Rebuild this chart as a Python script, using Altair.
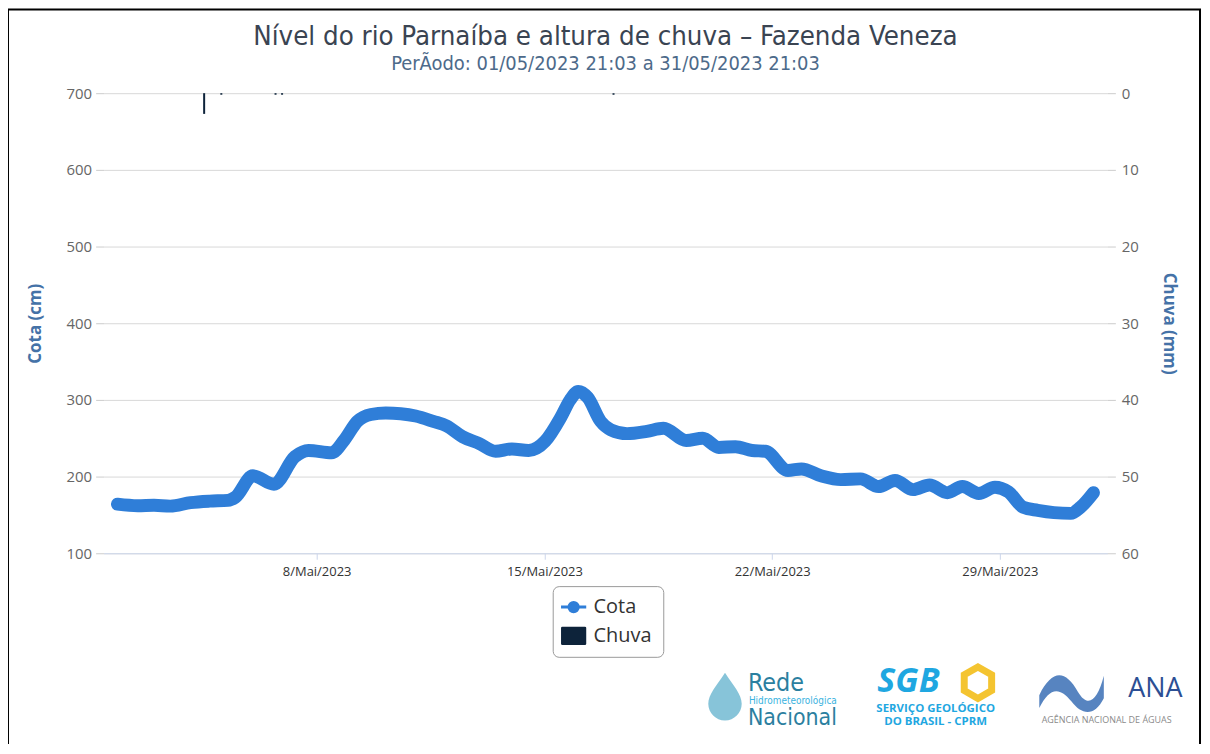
import altair as alt
import pandas as pd

# ---------------- data ----------------
cota_time = [
    "2023-05-01T21:03", "2023-05-02T12:00", "2023-05-03T00:00", "2023-05-03T12:00",
    "2023-05-04T03:00", "2023-05-04T17:00", "2023-05-05T06:30", "2023-05-05T12:00",
    "2023-05-06T01:00", "2023-05-06T16:30", "2023-05-07T08:00", "2023-05-07T18:00",
    "2023-05-08T11:00", "2023-05-08T20:30", "2023-05-09T06:00", "2023-05-09T16:00",
    "2023-05-10T03:00", "2023-05-10T14:00", "2023-05-11T01:00", "2023-05-11T14:00",
    "2023-05-12T00:00", "2023-05-12T11:40", "2023-05-13T00:00", "2023-05-13T12:00",
    "2023-05-14T00:00", "2023-05-14T12:20", "2023-05-15T00:30", "2023-05-15T12:20",
    "2023-05-15T19:00", "2023-05-16T01:00", "2023-05-16T08:00", "2023-05-16T17:30",
    "2023-05-17T01:00", "2023-05-17T13:00", "2023-05-18T03:40", "2023-05-18T15:50",
    "2023-05-19T08:40", "2023-05-19T20:50", "2023-05-20T08:40", "2023-05-20T21:00",
    "2023-05-21T09:15", "2023-05-21T19:00", "2023-05-22T11:40", "2023-05-22T21:40",
    "2023-05-23T12:00", "2023-05-24T02:40", "2023-05-24T17:15", "2023-05-25T06:30",
    "2023-05-25T18:40", "2023-05-26T08:00", "2023-05-26T20:10", "2023-05-27T09:20",
    "2023-05-27T20:20", "2023-05-28T08:30", "2023-05-28T20:20", "2023-05-29T06:20",
    "2023-05-29T17:15", "2023-05-30T04:00", "2023-05-30T16:00", "2023-05-31T04:20",
    "2023-05-31T11:30", "2023-05-31T21:03",
]
cota_cm = [
    164, 162, 162.5, 161.5, 166, 168, 169, 173,
    201, 190, 226, 234, 231, 248, 272, 281,
    283, 282, 279, 272, 266, 252, 243, 233,
    236, 234, 246, 278, 300, 311, 303, 272,
    261, 256, 259, 263, 247, 250, 238, 239,
    234, 233, 208, 210, 201, 196, 197, 187,
    195, 183, 189, 179, 187, 178, 186, 180,
    160, 156, 153, 152, 160, 179,
]

chuva_time = ["2023-05-04T13:00", "2023-05-05T01:40", "2023-05-06T17:40",
              "2023-05-06T22:30", "2023-05-17T03:00"]
chuva_mm = [2.7, 0.2, 0.2, 0.2, 0.2]

series_names = ["Cota", "Chuva"]
series_colors = ["#2f7ed8", "#0d233a"]

cota_ticks = [100, 200, 300, 400, 500, 600, 700]
chuva_ticks = [0, 10, 20, 30, 40, 50, 60]
x_tick_days = [8, 15, 22, 29]

title_text = "Nível do rio Parnaíba e altura de chuva – Fazenda Veneza"
subtitle_text = "PerÃodo: 01/05/2023 21:03 a 31/05/2023 21:03"

logo_rede = ["Rede", "Hidrometeorológica", "Nacional"]
logo_sgb = ["SGB", "SERVIÇO GEOLÓGICO", "DO BRASIL - CPRM"]
logo_ana = ["ANA", "AGÊNCIA NACIONAL DE ÁGUAS"]

cota_df = pd.DataFrame({"t": cota_time, "cota": cota_cm, "serie": series_names[0]})
chuva_df = pd.DataFrame({"t": chuva_time, "chuva": chuva_mm, "serie": series_names[1]})
one = pd.DataFrame({"a": [0]})

FONT = "Open Sans"
NARROW = "Liberation Sans Narrow, DejaVu Sans Condensed, Open Sans"

x_scale = alt.Scale(domain=[alt.DateTime(year=2023, month=5, date=1, hours=14, minutes=30),
                            alt.DateTime(year=2023, month=6, date=1, hours=3, minutes=40)])
x_axis = alt.Axis(
    values=[alt.DateTime(year=2023, month=5, date=d) for d in x_tick_days],
    labelExpr="date(datum.value) + '/Mai/' + year(datum.value)",
    title=None, grid=False, tickSize=6, tickColor="#ccd6eb", domainColor="#ccd6eb",
    labelColor="#333333", labelFontSize=13, labelFont=FONT, labelPadding=6,
)

COTA_PATH = "M-1,0L1,0M-0.37,0A0.37,0.37,0,1,0,0.37,0A0.37,0.37,0,1,0,-0.37,0Z"
CHUVA_PATH = ("M-0.9,-0.72L0.9,-0.72Q1,-0.72,1,-0.62L1,0.62Q1,0.72,0.9,0.72"
              "L-0.9,0.72Q-1,0.72,-1,0.62L-1,-0.62Q-1,-0.72,-0.9,-0.72Z")
DROP_PATH = "M0,-1C0.35,-0.45,0.7,-0.1,0.7,0.3A0.7,0.7,0,1,1,-0.7,0.3C-0.7,-0.1,-0.35,-0.45,0,-1Z"
HEX_PATH = "M0,-1L0.87,-0.5L0.87,0.5L0,1L-0.87,0.5L-0.87,-0.5Z"
WAVE_PATH = ("M-1,0.2C-0.6,-0.6,-0.2,-0.6,0.2,0.1C0.5,0.6,0.8,0.4,1,-0.4L1,0.3"
             "C0.7,0.9,0.3,0.8,0,0.4C-0.4,-0.1,-0.7,0,-1,0.6Z")

color_enc = alt.Color(
    "serie:N",
    scale=alt.Scale(domain=series_names, range=series_colors),
    legend=alt.Legend(
        title=None, orient="none", legendX=451, legendY=495, direction="vertical",
        strokeColor="#999999", cornerRadius=6, padding=11, fillColor="white",
        labelFontSize=20, labelColor="#333333", labelFont=FONT, labelOffset=10,
        symbolSize=640, rowPadding=8, symbolOpacity=1,
        symbolType=alt.ExprRef(expr=f"datum.value === 'Cota' ? '{COTA_PATH}' : '{CHUVA_PATH}'"),
        symbolFillColor=alt.ExprRef(expr="datum.value === 'Cota' ? '#2f7ed8' : '#0d233a'"),
        symbolStrokeColor=alt.ExprRef(expr="datum.value === 'Cota' ? '#2f7ed8' : '#0d233a'"),
        symbolStrokeWidth=alt.ExprRef(expr="datum.value === 'Cota' ? 3 : 0"),
    ),
)

line = alt.Chart(cota_df).mark_line(
    interpolate="monotone", strokeWidth=13, strokeCap="round", strokeJoin="round"
).encode(
    x=alt.X("t:T", scale=x_scale, axis=x_axis),
    y=alt.Y("cota:Q", scale=alt.Scale(domain=[100, 700], nice=False),
            axis=alt.Axis(orient="left", values=cota_ticks, title="Cota (cm)",
                          titleColor="#4572a7", titleFontSize=17, titleFontWeight="bold",
                          titleFont=FONT, titlePadding=22, labelFontSize=15,
                          labelColor="#666666", labelFont=FONT, tickColor="#cccccc",
                          tickSize=8, domain=False, gridColor="#d8d8d8", labelPadding=4)),
    color=color_enc,
)

bars = alt.Chart(chuva_df).mark_bar(size=2).encode(
    x=alt.X("t:T", scale=x_scale, axis=x_axis),
    y=alt.Y("chuva:Q", scale=alt.Scale(domain=[0, 60], reverse=True, nice=False),
            axis=alt.Axis(orient="right", values=chuva_ticks, title="Chuva (mm)",
                          titleColor="#4572a7", titleFontSize=17, titleFontWeight="bold",
                          titleFont=FONT, titlePadding=21, labelFontSize=15,
                          labelColor="#666666", labelFont=FONT, tickColor="#cccccc",
                          tickSize=8, domain=False, grid=False, labelPadding=6)),
    color=color_enc,
)

frame = alt.Chart(one).mark_rect(filled=False, stroke="black", strokeWidth=2).encode(
    x=alt.value(-96), x2=alt.value(1101), y=alt.value(-84), y2=alt.value(700)
)

def txt(text, x, y, size, color, weight="normal", font=NARROW, align="left", style="normal"):
    return alt.Chart(one).mark_text(
        text=text, fontSize=size, color=color, fontWeight=weight, font=font,
        align=align, baseline="alphabetic", fontStyle=style
    ).encode(x=alt.value(x), y=alt.value(y))

def sym(path, x, y, size, fill, stroke=None, sw=0, opacity=1.0):
    kw = dict(shape=path, size=size, fill=fill, fillOpacity=opacity, filled=fill is not None)
    if stroke:
        kw.update(stroke=stroke, strokeWidth=sw)
    return alt.Chart(one).mark_point(**kw).encode(x=alt.value(x), y=alt.value(y))

logos = [
    sym(DROP_PATH, 624, 606, 2300, "#5fb0cc", opacity=0.75),
    txt(logo_rede[0], 647, 600, 25, "#2b7fa0"),
    txt(logo_rede[1], 648, 613, 10, "#3ab3e0"),
    txt(logo_rede[2], 647, 634, 23, "#2b7fa0"),
    txt(logo_sgb[0], 777, 601, 34, "#1fa7e1", weight="bold", font="Open Sans", style="italic"),
    sym(HEX_PATH, 878, 592, 1000, None, stroke="#f4c430", sw=7),
    txt(logo_sgb[1], 776, 621, 11.5, "#1fa7e1", weight="bold", font="Open Sans"),
    txt(logo_sgb[2], 784, 634, 11.5, "#1fa7e1", weight="bold", font="Open Sans"),
    sym(WAVE_PATH, 972, 598, 4200, "#3a6fb5", opacity=0.85),
    txt(logo_ana[0], 1029, 606, 27, "#2c4f94", font="Open Sans"),
    txt(logo_ana[1], 942, 632, 9, "#8a8a8a", font="Open Sans"),
]

chart = alt.layer(line, bars, frame, *logos).resolve_scale(
    y="independent"
).properties(
    width=1008, height=462,
    title=alt.TitleParams(
        text=title_text, subtitle=subtitle_text, anchor="middle", frame="group",
        font=NARROW, fontSize=27.5, fontWeight="normal", color="#3a4452",
        subtitleFont=NARROW, subtitleFontSize=20, subtitleColor="#4d6a8a",
        subtitlePadding=4, offset=-66,
    ),
    autosize=alt.AutoSizeParams(type="none"),
    padding={"left": 96, "top": 84, "right": 95, "bottom": 190},
).configure_view(stroke=None)

chart.save("out.html", embed_options={"renderer": "svg", "actions": False})
